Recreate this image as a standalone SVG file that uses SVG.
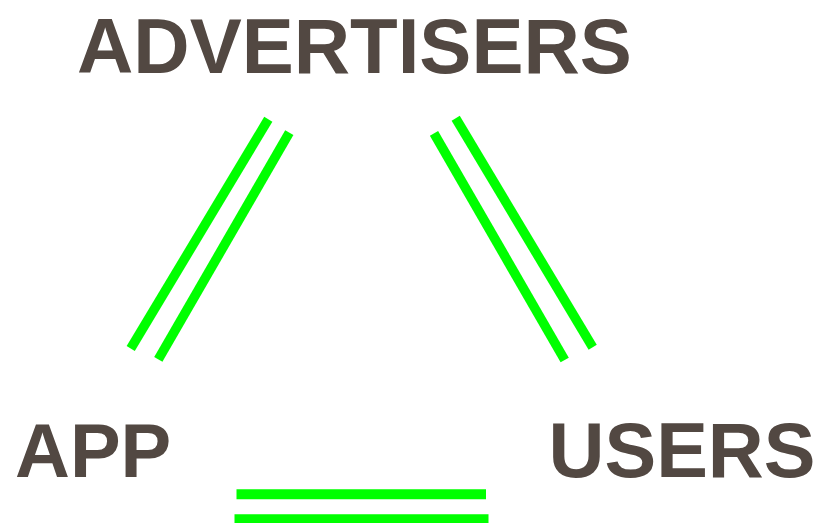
<svg xmlns="http://www.w3.org/2000/svg" width="817" height="523" viewBox="0 0 817 523">
<style>
.lbl{font-family:"Liberation Sans",Arial,sans-serif;font-weight:bold;fill:#524842}
.ln{stroke:#00ff00;stroke-width:9.5;stroke-linecap:butt;fill:none}
.hl{stroke:#00ff00;stroke-width:10;stroke-linecap:butt;fill:none}
</style>
<rect width="817" height="523" fill="#ffffff"/>
<g id="advertisers"><text class="lbl" x="77" y="73" font-size="78">ADVERTISERS</text></g>
<g id="app"><text class="lbl" x="15" y="477" font-size="76">APP</text></g>
<g id="users"><text class="lbl" x="548.5" y="477" font-size="77.5">USERS</text></g>
<g id="connectors">
<line class="ln" x1="268.3" y1="119.3" x2="130.7" y2="348.5"/>
<line class="ln" x1="289.3" y1="132.7" x2="158.3" y2="359.3"/>
<line class="ln" x1="434" y1="133.3" x2="564.7" y2="360"/>
<line class="ln" x1="455.7" y1="118.3" x2="592.7" y2="347.3"/>
<line class="hl" x1="236.5" y1="494.2" x2="486" y2="494.2"/>
<line class="hl" x1="234.5" y1="519.3" x2="488.5" y2="519.3"/>
</g>
</svg>
